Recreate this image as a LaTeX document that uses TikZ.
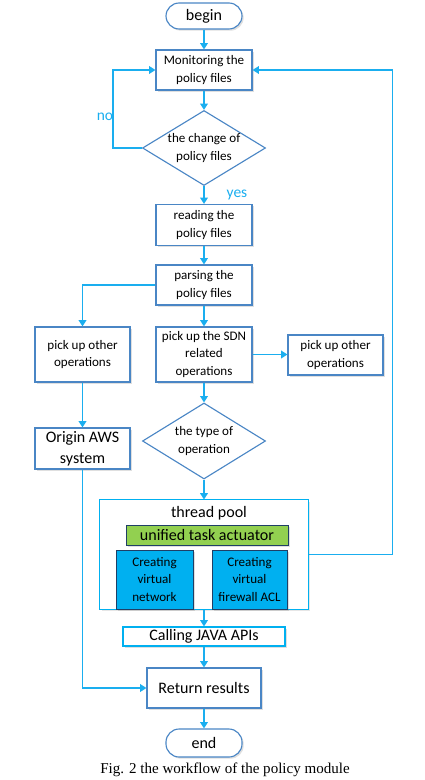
\documentclass[tikz,border=0pt]{standalone}
\usepackage{fontspec}
\setmainfont{Carlito}
\newfontfamily\capfont{Liberation Serif}
\usetikzlibrary{
  arrows.meta,
  shapes.geometric,
  shadows
}
\definecolor{linkblue}{HTML}{1AAEEF}
\definecolor{boxblue}{HTML}{4A86C5}
\definecolor{poolblue}{HTML}{00B0F0}
\definecolor{taskgreen}{HTML}{92D050}
\definecolor{darkedge}{HTML}{1F3F66}
\tikzset{
  small/.style={font=\fontsize{9.3}{12.3}\selectfont},
  big/.style={font=\fontsize{11.4}{14.7}\selectfont},
  proc/.style={
    draw=boxblue,
    line width=0.8pt,
    fill=white,
    align=center,
    inner sep=0pt,
    drop shadow={shadow xshift=1.2pt, shadow yshift=-1.2pt, opacity=0.25}},
  term/.style={proc, rounded corners=0.33cm, big},
  decide/.style={
    diamond,
    draw=boxblue,
    line width=0.8pt,
    fill=white,
    align=center,
    inner sep=0pt,
    shape aspect=1.64,
    minimum width=3.075cm,
    minimum height=1.875cm,
    small},
  task/.style={
    draw=darkedge,
    line width=0.6pt,
    align=center,
    inner sep=0pt,
    drop shadow={shadow xshift=1.2pt, shadow yshift=-1.2pt, opacity=0.25}},
  link/.style={
    draw=linkblue,
    line width=0.9pt,
    -{Triangle[length=4.5pt,width=5.5pt]}}
  }

\begin{document}
\begin{tikzpicture}[x=0.025cm, y=-0.025cm]
		\useasboundingbox (0,0) rectangle (424,780);
		\node [term, minimum width=1.9cm, minimum height=0.65cm] (begin) at (204,16) {begin};
		\node [proc, small, minimum width=2.4cm, minimum height=1cm] (watch) at (204,70) {Monitoring the\\policy files};
		\node [decide] (change) at (204,148) {the change of\\policy files};
		\node [proc, small, minimum width=2.4cm, minimum height=1.025cm] (read) at (204,225) {reading the\\policy files};
		\node [proc, small, minimum width=2.4cm, minimum height=1cm] (parse) at (204,285) {parsing the\\policy files};
		\node [proc, small, minimum width=2.375cm, minimum height=1.375cm] (otherl) at (82.5,354.5) {pick up other\\operations};
		\node [proc, small, minimum width=2.4cm, minimum height=1.375cm] (sdn) at (204,354.5) {pick up the SDN\\related\\operations};
		\node [proc, small, minimum width=2.375cm, minimum height=1cm] (otherr) at (335.5,355) {pick up other\\operations};
		\node [proc, big, minimum width=2.375cm, minimum height=1.025cm] (aws) at (82.5,448.5) {Origin AWS\\system};
		\node [decide, minimum height=1.9cm] (kind) at (204,441) {the type of\\operation};
		\node [draw=poolblue, line width=0.7pt, fill=white, minimum width=5.2cm, minimum height=2.725cm, inner sep=0pt,
			drop shadow={shadow xshift=1.2pt, shadow yshift=-1.2pt, opacity=0.2}] (pool) at (204,554.5) {};
		\node [big] (pooltitle) at (209,513) {thread pool};
		\node [task, fill=taskgreen, big, minimum width=4.05cm, minimum height=0.5cm] (actuator) at (207,535) {unified task actuator};
		\node [task, fill=poolblue, small, minimum width=1.925cm, minimum height=1.475cm] (vnet) at (154.5,579.5) {Creating\\virtual\\network};
		\node [task, fill=poolblue, small, minimum width=1.875cm, minimum height=1.475cm] (vfw) at (249.5,579.5) {Creating\\virtual\\firewall ACL};
		\node [proc, big, draw=poolblue, minimum width=4.05cm, minimum height=0.475cm] (java) at (204,636.5) {Calling JAVA APIs};
		\node [proc, big, minimum width=2.85cm, minimum height=1cm] (ret) at (204,688) {Return results};
		\node [term, minimum width=1.9cm, minimum height=0.7cm] (end) at (204,743) {end};
		\node [text=linkblue, font=\fontsize{11}{13}\selectfont] (no) at (105,117) {no};
		\node [text=linkblue, font=\fontsize{11}{13}\selectfont] (yes) at (237,195) {yes};
		\node [font=\capfont\fontsize{10.7}{13}\selectfont] (caption) at (225,770) {Fig. 2 the workflow of the policy module};
		\draw [link] (begin) to (watch);
		\draw [link] (watch) to (change);
		\draw [link] (change.west) -- ++(-29,0) |- (watch.west);
		\draw [link] (change) to (read);
		\draw [link] (read) to (parse);
		\draw [link] (parse.west) -| (otherl.north);
		\draw [link] (parse) to (sdn);
		\draw [link] (sdn.east) -- (otherr.west |- sdn.east);
		\draw [link] (otherl) to (aws);
		\draw [link] (sdn) to (kind);
		\draw [link] (kind) to (pool);
		\draw [link] (pool.east) -- ++(84,0) |- (watch.east);
		\draw [link] (pool) to (java);
		\draw [link] (java) to (ret);
		\draw [link] (aws.south) |- (ret.west);
		\draw [link] (ret) to (end);
	\end{tikzpicture}
\end{document}
